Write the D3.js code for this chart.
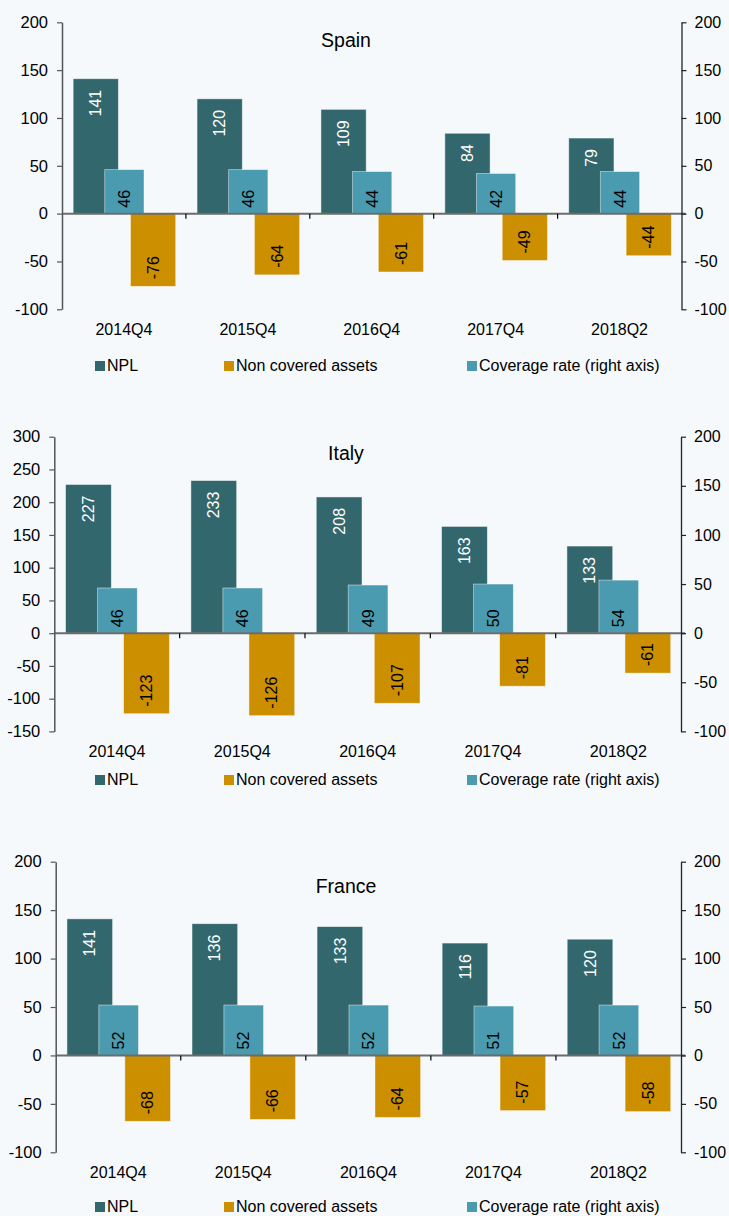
<!DOCTYPE html>
<meta charset="utf-8">
<title>NPL, non covered assets and coverage rate</title>
<style>
body { margin: 0; background: #f5f9fb; }
svg { display: block; font-family: "Liberation Sans", Arial, sans-serif; }
.axis text { font-size: 16px; fill: #000; }
</style>
<script src="https://d3js.org/d3.v7.min.js"></script>
<div id="chart"></div>
<script>

var quarters = ["2014Q4", "2015Q4", "2016Q4", "2017Q4", "2018Q2"];

var spainNPL = [141, 120, 109, 84, 79],
    spainNCA = [-76, -64, -61, -49, -44],
    spainCov = [46, 46, 44, 42, 44];

var italyNPL = [227, 233, 208, 163, 133],
    italyNCA = [-123, -126, -107, -81, -61],
    italyCov = [46, 46, 49, 50, 54];

var franceNPL = [141, 136, 133, 116, 120],
    franceNCA = [-68, -66, -64, -57, -58],
    franceCov = [52, 52, 52, 51, 52];

var ticksA = [-100, -50, 0, 50, 100, 150, 200],
    ticksB = [-150, -100, -50, 0, 50, 100, 150, 200, 250, 300];

var seriesNames = ["NPL", "Non covered assets", "Coverage rate (right axis)"];

var colors = { npl: "#33676e", nca: "#cc8f00", cov: "#4a9bb0" };

var width = 729, height = 1216;

var panels = [
  { name: "Spain", npl: spainNPL, nca: spainNCA, cov: spainCov,
    left: ticksA, right: ticksA,
    x0: 62, x1: 681.5, top: 22.3, bottom: 309.3, titleY: 47, catY: 335, legY: 371 },
  { name: "Italy", npl: italyNPL, nca: italyNCA, cov: italyCov,
    left: ticksB, right: ticksA,
    x0: 54.3, x1: 681, top: 436.7, bottom: 731.4, titleY: 460, catY: 757, legY: 785 },
  { name: "France", npl: franceNPL, nca: franceNCA, cov: franceCov,
    left: ticksA, right: ticksA,
    x0: 55.7, x1: 681, top: 861.7, bottom: 1152.3, titleY: 893, catY: 1178, legY: 1212 }
];

var svg = d3.select("#chart").append("svg")
    .attr("width", width)
    .attr("height", height);

svg.append("rect")
    .attr("width", width)
    .attr("height", height)
    .attr("fill", "#f5f9fb");

// bar positions inside a category, as fraction of the band
var slots = {
  npl: [0.09, 0.455],
  nca: [0.553, 0.918],
  cov: [0.345, 0.662]
};

// plain hyphen minus, like the original
var fmt = function (d) { return String(d); };

panels.forEach(function (p) {
  var g = svg.append("g");

  var x = d3.scaleBand()
      .domain(quarters)
      .range([p.x0, p.x1])
      .padding(0);
  var bw = x.bandwidth();

  var yL = d3.scaleLinear()
      .domain(d3.extent(p.left))
      .range([p.bottom, p.top]);
  var yR = d3.scaleLinear()
      .domain(d3.extent(p.right))
      .range([p.bottom, p.top]);

  // title
  g.append("text")
      .attr("x", 346)
      .attr("y", p.titleY)
      .attr("text-anchor", "middle")
      .style("font-size", "19.5px")
      .text(p.name);

  function bars(key, values, y) {
    var s = slots[key];
    g.append("g").selectAll("rect")
        .data(values)
      .enter().append("rect")
        .attr("x", function (d, i) { return x(quarters[i]) + s[0] * bw; })
        .attr("width", (s[1] - s[0]) * bw)
        .attr("y", function (d) { return Math.min(y(d), y(0)); })
        .attr("height", function (d) { return Math.abs(y(d) - y(0)); })
        .attr("fill", colors[key])
        .attr("stroke", "rgba(255,255,255,0.55)")
        .attr("stroke-width", 0.8);
  }

  bars("npl", p.npl, yL);
  bars("nca", p.nca, yL);
  bars("cov", p.cov, yR);

  // data labels, rotated
  function labels(key, values, y, color, where, pad) {
    var s = slots[key];
    g.append("g").selectAll("text")
        .data(values)
      .enter().append("text")
        .attr("transform", function (d, i) {
          var cx = x(quarters[i]) + (s[0] + s[1]) / 2 * bw;
          var cy;
          if (where == "end") cy = d >= 0 ? y(d) + pad : y(d) - pad;
          else cy = y(0) - pad;
          return "translate(" + cx + "," + cy + ") rotate(-90)";
        })
        .attr("dy", "0.35em")
        .attr("text-anchor", function (d) {
          if (where == "end") return d >= 0 ? "end" : "start";
          return "start";
        })
        .style("font-size", "16px")
        .attr("fill", color)
        .text(fmt);
  }

  labels("npl", p.npl, yL, "#fff", "end", 11);
  labels("cov", p.cov, yR, "#000", "base", 6);
  labels("nca", p.nca, yL, "#000", "end", 7);

  // zero line
  g.append("line")
      .attr("x1", p.x0)
      .attr("x2", p.x1 + 4)
      .attr("y1", yL(0))
      .attr("y2", yL(0))
      .attr("stroke", "#6b6b6b")
      .attr("stroke-width", 2);

  // category ticks on zero line
  g.append("g").selectAll("line")
      .data(quarters.slice(1))
    .enter().append("line")
      .attr("x1", function (d) { return x(d); })
      .attr("x2", function (d) { return x(d); })
      .attr("y1", yL(0))
      .attr("y2", yL(0) + 5)
      .attr("stroke", "#000")
      .attr("stroke-width", 1.2);

  // category labels
  g.append("g").selectAll("text")
      .data(quarters)
    .enter().append("text")
      .attr("x", function (d) { return x(d) + bw / 2; })
      .attr("y", p.catY)
      .attr("text-anchor", "middle")
      .style("font-size", "16px")
      .text(function (d) { return d; });

  // left axis
  var axL = g.append("g")
      .attr("class", "axis")
      .attr("transform", "translate(" + p.x0 + ",0)")
      .call(d3.axisLeft(yL).tickValues(p.left).tickFormat(fmt)
        .tickSize(5).tickPadding(9).tickSizeOuter(0));
  axL.select(".domain").attr("stroke", "#555").attr("stroke-width", 1.5);
  axL.selectAll(".tick line").attr("stroke", "#555").attr("stroke-width", 1.2);
  axL.selectAll("text").style("font-size", "16.5px").attr("font-family", null);

  // right axis
  var axR = g.append("g")
      .attr("class", "axis")
      .attr("transform", "translate(" + p.x1 + ",0)")
      .call(d3.axisRight(yR).tickValues(p.right).tickFormat(fmt)
        .tickSize(5).tickPadding(8).tickSizeOuter(0));
  axR.select(".domain").attr("stroke", "#222").attr("stroke-width", 1.3);
  axR.selectAll(".tick line").attr("stroke", "#222").attr("stroke-width", 1.2);
  axR.selectAll("text").style("font-size", "16px").attr("font-family", null);

  // legend
  var legX = [95, 224, 467],
      legKeys = ["npl", "nca", "cov"];
  var leg = g.append("g").selectAll("g")
      .data(seriesNames)
    .enter().append("g")
      .attr("transform", function (d, i) { return "translate(" + legX[i] + "," + p.legY + ")"; });
  leg.append("rect")
      .attr("y", -10)
      .attr("width", 10)
      .attr("height", 10)
      .attr("fill", function (d, i) { return colors[legKeys[i]]; });
  leg.append("text")
      .attr("x", 12)
      .style("font-size", "16px")
      .text(function (d) { return d; });
});
</script>
